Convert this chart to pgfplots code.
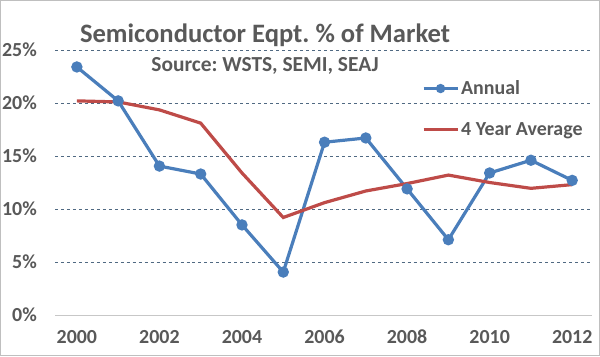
\documentclass[border=0pt]{standalone}
\usepackage{pgfplots}
\pgfplotsset{compat=1.18}
\usepackage{fontspec}
\setmainfont{Carlito}
\frenchspacing
\definecolor{txt}{RGB}{89,89,89}
\definecolor{blu}{RGB}{74,126,187}
\definecolor{rd}{RGB}{190,75,72}
\definecolor{gridc}{RGB}{80,105,130}
\begin{document}
\begin{tikzpicture}[x=1bp,y=1bp]
\useasboundingbox (0,0) rectangle (600,356);
\draw[black!25, line width=1bp] (0.5,0.5) rectangle (599.5,355.5);
\begin{axis}[at={(55bp,41bp)}, anchor=south west, scale only axis,
  width=537bp, height=265bp,
  xmin=1999.47, xmax=2012.48, ymin=0, ymax=25,
  axis line style={draw=none},
  major tick length=0,
  xtick={2000,2002,...,2012}, ytick={5,10,...,25},
  extra y ticks={0}, extra y tick style={grid style={solid, black!22, line width=1bp}},
  ymajorgrids, grid style={dashed, gridc, line width=0.6bp},
  /pgf/number format/assume math mode=true,
  /pgf/number format/1000 sep={},
  xticklabel style={font=\bfseries\fontsize{20}{24}\selectfont, text=txt, anchor=north, inner sep=0pt, yshift=-15bp},
  yticklabel style={font=\bfseries\fontsize{20}{24}\selectfont, text=txt, anchor=east, inner sep=0pt, xshift=-18bp},
  yticklabel={\pgfmathprintnumber{\tick}\%},
  legend style={draw=none, fill=none, at={(rel axis cs:0.683,0.892)}, anchor=north west,
    font=\bfseries\fontsize{20}{24}\selectfont, text=txt, row sep=22bp, inner sep=0pt,
    cells={anchor=west}},
  legend image code/.code={\draw[mark repeat=2,mark phase=2,mark size=3bp,#1] plot coordinates {(0bp,0bp) (17bp,0bp) (34bp,0bp)};},
  clip=false,
]
\addplot[blu, line width=3.2bp, mark=*, mark size=4bp, mark options={solid}] coordinates {
(2000,23.4) (2001,20.2) (2002,14.05) (2003,13.3) (2004,8.5) (2005,4.05)
(2006,16.3) (2007,16.7) (2008,11.9) (2009,7.1) (2010,13.4) (2011,14.6) (2012,12.7)};
\addlegendentry{Annual}
\addplot[rd, line width=3.2bp, no marks] coordinates {
(2000,20.2) (2001,20.1) (2002,19.35) (2003,18.1) (2004,13.4) (2005,9.2)
(2006,10.6) (2007,11.7) (2008,12.4) (2009,13.2) (2010,12.5) (2011,11.95) (2012,12.3)};
\addlegendentry{4 Year Average}
\end{axis}
\node[font=\bfseries\fontsize{26.7}{30}\selectfont, text=txt, anchor=base] at (265,314) {Semiconductor Eqpt. \% of Market};
\node[font=\bfseries\fontsize{21.5}{25}\selectfont, text=txt, anchor=base] at (265,285) {Source: WSTS, SEMI, SEAJ};
\end{tikzpicture}
\end{document}
